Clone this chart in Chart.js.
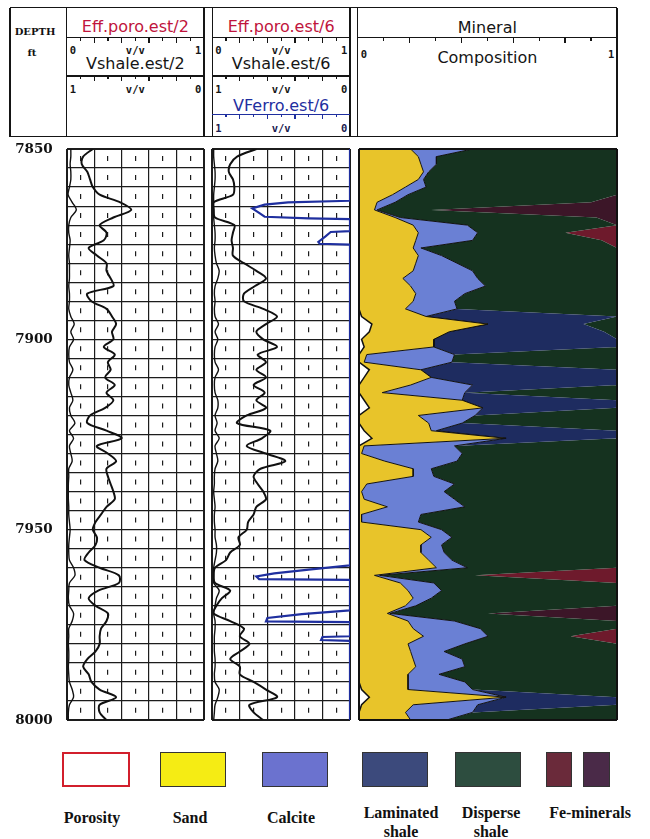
<!DOCTYPE html>
<html lang="en">
<head>
<meta charset="UTF-8" />
<title>Mineral composition log 7850-8000 ft</title>
<script src="https://cdn.jsdelivr.net/npm/chart.js"></script>
<style>
  html, body { margin: 0; padding: 0; background: #fff; }
  body { position: relative; width: 650px; height: 839px; overflow: hidden; font-family: "DejaVu Sans", sans-serif; }
  .track { position: absolute; top: 140px; height: 596px; }
  .track canvas { display: block; }
  #hdr div { position: absolute; white-space: nowrap; }
  .t { font-size: 16px; line-height: 16px; transform: translate(-50%, -50%); }
  .s { font-family: "DejaVu Sans Mono", monospace; font-weight: bold; font-size: 10.5px; line-height: 10px; transform: translateY(-50%); }
  .d { font-family: "DejaVu Serif", serif; font-weight: bold; font-size: 10px; line-height: 10px; transform: translate(-50%, -50%); }
  .sw { position: absolute; top: 752px; height: 35px; box-sizing: border-box; border: 1px solid #333; }
  .lab { position: absolute; transform: translateX(-50%); text-align: center; font-family: "Liberation Serif", serif; font-weight: bold; font-size: 16px; line-height: 19px; white-space: nowrap; color: #111; }
</style>
</head>
<body>
<div id="hdr"></div>
<div class="track" style="left:10px;width:196px"><canvas id="track1" width="196" height="596"></canvas></div>
<div class="track" style="left:210px;width:142px"><canvas id="track2" width="142" height="596"></canvas></div>
<div class="track" style="left:355px;width:264px"><canvas id="track3" width="264" height="596"></canvas></div>

<!-- legend -->
<div class="sw" style="left:62px;width:68px;border:2px solid #d21f2c;background:#fff"></div>
<div class="sw" style="left:160px;width:66px;background:#f5ec14"></div>
<div class="sw" style="left:262px;width:66px;background:#6b72cf"></div>
<div class="sw" style="left:362px;width:66px;background:#3c4a7c"></div>
<div class="sw" style="left:455px;width:66px;background:#2d4d3f"></div>
<div class="sw" style="left:546px;width:26px;background:#6a2a3a"></div>
<div class="sw" style="left:583px;width:27px;background:#4a2a48"></div>
<div class="lab" style="left:92px;top:808px">Porosity</div>
<div class="lab" style="left:190px;top:808px">Sand</div>
<div class="lab" style="left:291px;top:808px">Calcite</div>
<div class="lab" style="left:401px;top:803px">Laminated<br>shale</div>
<div class="lab" style="left:491px;top:803px">Disperse<br>shale</div>
<div class="lab" style="left:590px;top:803px">Fe-minerals</div>

<script>
// depth samples (ft), every 2 ft
const depth = [
  7850, 7852, 7854, 7856, 7858, 7860, 7862, 7864, 7866, 7868,
  7870, 7872, 7874, 7876, 7878, 7880, 7882, 7884, 7886, 7888,
  7890, 7892, 7894, 7896, 7898, 7900, 7902, 7904, 7906, 7908,
  7910, 7912, 7914, 7916, 7918, 7920, 7922, 7924, 7926, 7928,
  7930, 7932, 7934, 7936, 7938, 7940, 7942, 7944, 7946, 7948,
  7950, 7952, 7954, 7956, 7958, 7960, 7962, 7964, 7966, 7968,
  7970, 7972, 7974, 7976, 7978, 7980, 7982, 7984, 7986, 7988,
  7990, 7992, 7994, 7996, 7998, 8000
];
const depthLabels = [7850, 7900, 7950, 8000];

// track 1 curves (v/v)
const effPoro2 = [
  .03, .03, .025, .03, .03, .02, .01, .04, .07, .03,
  .015, .015, .025, .02, .015, .02, .02, .02, .015, .02,
  .02, .015, .03, .055, .03, .05, .02, .015, .02, .045,
  .02, .015, .03, .045, .02, .03, .06, .02, .05, .02,
  .03, .04, .015, .015, .012, .012, .012, .015, .015, .02,
  .025, .02, .015, .015, .02, .05, .06, .02, .015, .012,
  .02, .05, .04, .015, .015, .012, .015, .015, .012, .015,
  .02, .04, .05, .02, .012, .012
];
const vshale2 = [
  .81, .88, .89, .85, .83, .81, .76, .61, .53, .66,
  .76, .71, .73, .84, .78, .71, .71, .68, .66, .85,
  .82, .71, .67, .64, .67, .66, .73, .65, .70, .68,
  .72, .65, .71, .66, .72, .83, .85, .71, .60, .78,
  .70, .64, .71, .70, .68, .66, .65, .71, .75, .79,
  .81, .78, .79, .84, .87, .76, .62, .62, .77, .84,
  .79, .70, .71, .75, .76, .76, .79, .85, .88, .84,
  .82, .76, .64, .76, .76, .71
];

// track 2 curves (v/v)
const effPoro6 = [
  .01, .01, .015, .02, .02, .015, .01, .01, .01, .01,
  .015, .02, .02, .015, .02, .03, .05, .04, .02, .015,
  .02, .015, .02, .045, .02, .04, .02, .015, .02, .045,
  .02, .015, .02, .04, .04, .02, .035, .02, .05, .02,
  .03, .04, .02, .015, .015, .01, .015, .02, .015, .015,
  .02, .02, .03, .03, .02, .01, .01, .01, .05, .03,
  .02, .01, .02, .02, .015, .015, .015, .02, .02, .015,
  .02, .05, .04, .02, .015, .01
];
const vshale6 = [
  .68, .82, .87, .88, .85, .84, .85, .99, .99, .98,
  .84, .85, .86, .85, .85, .77, .68, .61, .69, .77,
  .77, .63, .53, .61, .68, .63, .53, .67, .61, .68,
  .61, .70, .62, .68, .61, .75, .82, .58, .64, .75,
  .61, .47, .65, .70, .67, .63, .61, .68, .70, .74,
  .75, .81, .80, .87, .90, .98, .99, .98, .87, .93,
  .97, .99, .87, .77, .80, .73, .80, .87, .80, .80,
  .70, .61, .53, .73, .70, .63
];
const ferroDepth = [
  7850, 7863.6, 7864.0, 7864.6, 7865.6, 7866.8, 7867.8, 7868.2, 7868.4,
  7871.6, 7871.8, 7873.0, 7874.4, 7874.9, 7875.1,
  7959.4, 7960.5, 7961.5, 7962.3, 7963.0, 7963.2,
  7971.2, 7972.2, 7973.2, 7974.1, 7974.3,
  7978.0, 7978.2, 7979.0, 7979.2, 8000
];
const vferro6 = [
  0, 0, .45, .62, .71, .66, .62, .30, 0,
  0, .14, .18, .23, .22, 0,
  0, .30, .55, .68, .66, 0,
  0, .35, .60, .61, 0,
  0, .20, .21, 0, 0
];

// track 3 mineral composition (fractions, each row sums to 1)
const porosity = [
  0, 0, 0, 0, 0, 0, 0, 0, 0, 0,
  0, 0, 0, 0, 0, 0, 0, 0, 0, 0,
  0, 0, .01, .05, .04, .01, .02, 0, 0, .04,
  .02, 0, 0, .02, .04, 0, 0, .02, .05, 0,
  0, 0, 0, 0, 0, 0, 0, 0, 0, 0,
  0, 0, 0, 0, 0, 0, 0, 0, 0, 0,
  0, 0, 0, 0, 0, 0, 0, 0, 0, 0,
  0, .01, .04, .01, 0, 0
];
const sand = [
  .20, .23, .24, .25, .23, .18, .13, .07, .06, .14,
  .21, .23, .22, .21, .23, .22, .21, .17, .20, .22,
  .21, .18, .25, .45, .31, .28, .27, .03, .02, .20,
  .26, .20, .09, .38, .44, .23, .27, .26, .52, .02,
  .01, .10, .21, .21, .03, .01, .02, .11, .01, .01,
  .24, .28, .24, .24, .27, .30, .06, .16, .19, .21,
  .18, .11, .19, .21, .25, .19, .20, .21, .22, .19,
  .19, .18, .53, .20, .18, .20
];
const calcite = [
  .24, .07, .06, .02, .02, .08, .06, .07, .01, .02,
  .21, .23, .22, .03, .09, .16, .23, .29, .29, .19,
  .16, .20, 0, 0, 0, 0, 0, .34, .34, 0,
  0, .24, .32, 0, 0, .22, .13, .02, 0, .35,
  .39, .28, .07, .08, .34, .32, .35, .30, .23, .22,
  .08, .08, .08, .09, .09, .12, .02, .13, .13, .07,
  .04, .01, .18, .26, .25, .22, .13, .19, .19, .12,
  .22, .25, 0, .25, .26, .14
];
const lamShale = [
  0, 0, 0, 0, 0, 0, 0, 0, 0, 0,
  0, 0, 0, 0, 0, 0, 0, 0, 0, 0,
  0, 0, .74, .37, .60, .71, .71, 0, 0, .76,
  .72, .56, 0, .60, .52, 0, 0, .70, .43, 0,
  0, 0, 0, 0, 0, 0, 0, 0, 0, 0,
  0, 0, 0, 0, 0, 0, 0, 0, 0, 0,
  0, 0, 0, 0, 0, 0, 0, 0, 0, 0,
  0, 0, .43, .54, 0, 0
];
const dispShale = [
  .56, .70, .70, .73, .75, .74, .81, .76, .21, .76,
  .58, .34, .50, .76, .68, .62, .56, .54, .51, .59,
  .63, .62, 0, .13, .05, 0, 0, .63, .64, 0,
  0, 0, .59, 0, 0, .55, .60, 0, 0, .63,
  .60, .62, .72, .71, .63, .67, .63, .59, .76, .77,
  .68, .64, .68, .67, .64, .58, .37, .71, .68, .72,
  .78, .38, .63, .53, .32, .59, .67, .60, .59, .69,
  .59, .56, 0, 0, .56, .66
];
const feRed = [
  0, 0, 0, 0, 0, 0, 0, 0, 0, 0,
  0, .20, .06, 0, 0, 0, 0, 0, 0, 0,
  0, 0, 0, 0, 0, 0, 0, 0, 0, 0,
  0, 0, 0, 0, 0, 0, 0, 0, 0, 0,
  0, 0, 0, 0, 0, 0, 0, 0, 0, 0,
  0, 0, 0, 0, 0, 0, .55, 0, 0, 0,
  0, 0, 0, 0, .18, 0, 0, 0, 0, 0,
  0, 0, 0, 0, 0, 0
];
const fePurple = [
  0, 0, 0, 0, 0, 0, 0, .10, .72, .08,
  0, 0, 0, 0, 0, 0, 0, 0, 0, 0,
  0, 0, 0, 0, 0, 0, 0, 0, 0, 0,
  0, 0, 0, 0, 0, 0, 0, 0, 0, 0,
  0, 0, 0, 0, 0, 0, 0, 0, 0, 0,
  0, 0, 0, 0, 0, 0, 0, 0, 0, 0,
  0, .50, 0, 0, 0, 0, 0, 0, 0, 0,
  0, 0, 0, 0, 0, 0
];

// ---------- header ----------
const hdr = document.getElementById('hdr');
function put(css, text, cls) {
  const d = document.createElement('div');
  if (cls) d.className = cls;
  d.style.cssText = css;
  if (text) d.textContent = text;
  hdr.appendChild(d);
}
function hline(x0, x1, y, color) {
  put(`left:${x0}px;top:${y - 0.75}px;width:${x1 - x0}px;height:1.5px;background:${color}`);
}
function vline(x, y0, y1, color, w) {
  w = w || 1.5;
  put(`left:${x - w / 2}px;top:${y0}px;width:${w}px;height:${y1 - y0}px;background:${color}`);
}
function ticks(x0, x1, y, color) {
  for (let k = 1; k < 10; k++) vline(x0 + k * (x1 - x0) / 10, y, y + (k % 2 ? 3 : 5), color, 1.3);
}
function title(text, cx, cy, color) {
  put(`left:${cx}px;top:${cy}px;color:${color}`, text, 't');
}
function scaleText(x0, x1, y, left, right, color) {
  put(`left:${x0 + 3}px;top:${y}px;color:${color}`, left, 's');
  put(`left:${(x0 + x1) / 2}px;top:${y}px;color:${color};transform:translate(-50%,-50%)`, 'v/v', 's');
  put(`left:${x1 - 9}px;top:${y}px;color:${color}`, right, 's');
}

const RED = '#c0143c', BLUE = '#1f2f9f', INK = '#151515';
const t1 = [66.7, 204], t2 = [212.3, 350], t3 = [357.7, 617];
hline(10, 617, 7.5, INK);
hline(10, 617, 136.5, INK);
[10, 66.7, 204, 212.3, 350, 357.7, 617].forEach(x => vline(x, 7.5, 136.5, INK));
put('left:35px;top:32px;color:#111', 'DEPTH', 'd');
put('left:32px;top:53px;color:#111', 'ft', 'd');

[[t1, '2'], [t2, '6']].forEach(([t, n]) => {
  const mid = (t[0] + t[1]) / 2;
  title('Eff.poro.est/' + n, mid, 27, RED);
  hline(t[0], t[1], 37.7, INK);
  ticks(t[0], t[1], 37.7, INK);
  scaleText(t[0], t[1], 50, '0', '1', INK);
  title('Vshale.est/' + n, mid, 64, INK);
  hline(t[0], t[1], 76, INK);
  ticks(t[0], t[1], 76, INK);
  scaleText(t[0], t[1], 89, '1', '0', INK);
});
title('VFerro.est/6', (t2[0] + t2[1]) / 2, 106, BLUE);
hline(t2[0], t2[1], 114.3, BLUE);
ticks(t2[0], t2[1], 114.3, BLUE);
scaleText(t2[0], t2[1], 127.5, '1', '0', '#1a1a50');

title('Mineral', (t3[0] + t3[1]) / 2, 27.5, INK);
hline(t3[0], t3[1], 37.7, INK);
ticks(t3[0], t3[1], 37.7, INK);
put(`left:${t3[0] + 3}px;top:53.5px;color:${INK}`, '0', 's');
put(`left:${t3[1] - 9}px;top:53.5px;color:${INK}`, '1', 's');
title('Composition', (t3[0] + t3[1]) / 2, 57.5, INK);

// ---------- charts ----------
Chart.defaults.animation = false;
Chart.defaults.font.family = '"DejaVu Sans", sans-serif';

const pts = (vals, ys) => vals.map((v, i) => ({ x: v, y: ys[i] }));
const atEdge = c => c.tick && (c.tick.value === 7850 || c.tick.value === 8000);

function depthAxis(extra) {
  return Object.assign({
    type: 'linear', min: 7850, max: 8000, reverse: true,
    afterFit: s => { s.width = 0; },
    ticks: { display: false, stepSize: 5, autoSkip: false },
    grid: { color: '#1c1c1c', lineWidth: c => atEdge(c) ? 2 : 1.2, drawTicks: false },
    border: { display: false }
  }, extra);
}

// 0..1 grid: solid every 0.2, short dashes in between
const fracGrid = {
  type: 'linear', min: 0, max: 1,
  afterFit: s => { s.height = 0; },
  ticks: { display: false, stepSize: 0.1, autoSkip: false },
  grid: { color: '#1c1c1c', drawTicks: false, lineWidth: c => (c.index === 0 || c.index === 10) ? 2 : 1.2 },
  border: { display: false, dash: c => (c.index % 2 ? [5, 14.03] : []), dashOffset: 12.03 }
};
const fracReversed = { type: 'linear', min: 0, max: 1, reverse: true, display: false };

function curve(label, vals, ys, axis, color, width) {
  return { label, data: pts(vals, ys), xAxisID: axis, borderColor: color, borderWidth: width,
           pointRadius: 0, tension: 0.3, fill: false };
}

function logOptions(pad, yAxis) {
  return {
    responsive: false,
    indexAxis: 'y',
    layout: { padding: pad },
    plugins: { legend: { display: false }, tooltip: { enabled: false } },
    scales: { x: fracGrid, xr: fracReversed, y: yAxis }
  };
}

new Chart(document.getElementById('track1'), {
  type: 'line',
  data: { datasets: [
    curve('Eff.poro.est/2', effPoro2, depth, 'x', '#111', 1.4),
    curve('Vshale.est/2', vshale2, depth, 'xr', '#111', 2)
  ] },
  options: logOptions({ top: 9, bottom: 16, left: 0, right: 2 }, depthAxis({
    // depth labels sit in a fixed-width gutter; no extra vertical room for them
    afterFit: s => { s.width = 56.7; s.paddingTop = 0; s.paddingBottom = 0; },
    ticks: {
      stepSize: 5, autoSkip: false, padding: 14, color: '#111',
      font: { family: '"DejaVu Serif", serif', weight: 'bold', size: 13.5 },
      callback: v => depthLabels.includes(v) ? String(v) : ''
    }
  }))
});

new Chart(document.getElementById('track2'), {
  type: 'line',
  data: { datasets: [
    curve('Eff.poro.est/6', effPoro6, depth, 'x', '#111', 1.4),
    curve('Vshale.est/6', vshale6, depth, 'xr', '#111', 2),
    Object.assign(curve('VFerro.est/6', vferro6, ferroDepth, 'xr', '#1f2f9f', 2.2), { tension: 0 })
  ] },
  options: logOptions({ top: 9, bottom: 16, left: 2.3, right: 2 }, depthAxis())
});

const minerals = [
  ['Porosity', porosity, '#ffffff', '#111', 1.5, 'origin'],
  ['Sand', sand, '#e8c42a', '#111', 1, '-1'],
  ['Calcite', calcite, '#6a80d4', '#111', 1, '-1'],
  ['Laminated shale', lamShale, '#1e2c60', 'rgba(0,0,0,0)', 1, '-1'],
  ['Disperse shale', dispShale, '#15321f', 'rgba(0,0,0,0)', 1, '-1'],
  ['Fe-minerals', feRed, '#6e1a2c', 'rgba(0,0,0,0)', 1, '-1'],
  ['Fe-minerals', fePurple, '#3c1628', 'rgba(0,0,0,0)', 1, '-1']
];

new Chart(document.getElementById('track3'), {
  type: 'line',
  data: { datasets: minerals.map(([label, vals, bg, line, w, fill]) => ({
    label, data: pts(vals, depth), backgroundColor: bg, borderColor: line, borderWidth: w,
    fill, pointRadius: 0, tension: 0
  })) },
  options: {
    responsive: false,
    indexAxis: 'y',
    layout: { padding: { top: 9, bottom: 16, left: 4, right: 2 } },
    plugins: { legend: { display: false }, tooltip: { enabled: false } },
    scales: {
      x: {
        type: 'linear', min: 0, max: 1, stacked: true,
        afterFit: s => { s.height = 0; },
        ticks: { display: false, stepSize: 1 },
        grid: { color: '#111', lineWidth: 2, drawTicks: false, z: 1 },
        border: { display: false }
      },
      y: depthAxis({
        ticks: { display: false, stepSize: 150, autoSkip: false },
        grid: { color: '#111', lineWidth: c => atEdge(c) ? 2 : 0, drawTicks: false, z: 1 }
      })
    }
  }
});
</script>
</body>
</html>
